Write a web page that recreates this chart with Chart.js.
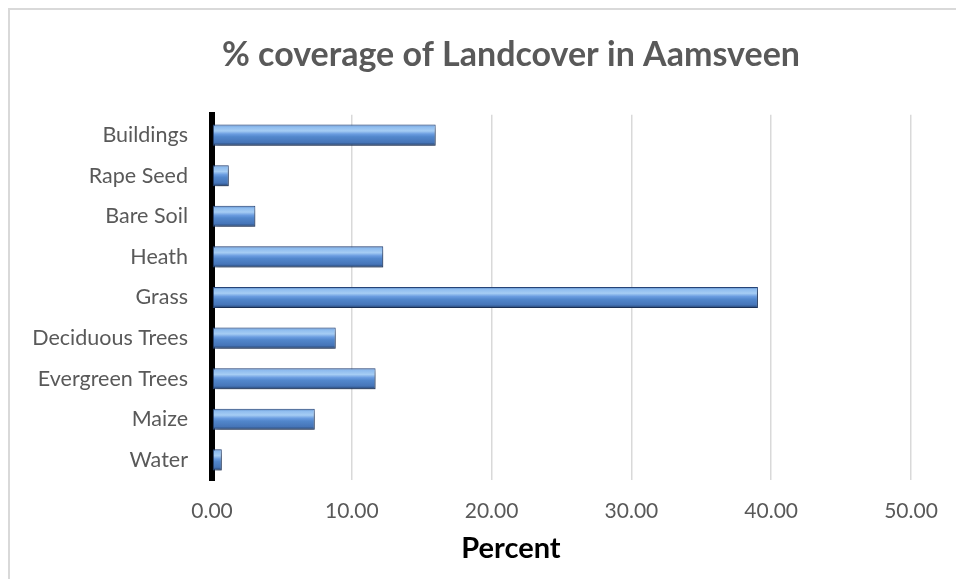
<!DOCTYPE html>
<html>
<head>
<meta charset="utf-8">
<title>Landcover Aamsveen</title>
<script src="https://cdn.jsdelivr.net/npm/chart.js@4.4.0/dist/chart.umd.min.js"></script>
<style>
  html, body { margin: 0; padding: 0; background: #fff; overflow: hidden; }
  #frame {
    position: absolute; left: 8px; top: 8px; width: 1000px; height: 620px;
    border-left: 2px solid #d9d9d9; border-top: 2px solid #d9d9d9;
  }
  #landcover-chart { position: absolute; left: 0; top: 0; }
</style>
</head>
<body>
<div id="frame"></div>
<canvas id="landcover-chart" width="1010" height="579"></canvas>
<script>
/* ---- data ---- */
var categories = ['Buildings', 'Rape Seed', 'Bare Soil', 'Heath', 'Grass',
                  'Deciduous Trees', 'Evergreen Trees', 'Maize', 'Water'];
var coverage = [16.0, 1.2, 3.1, 12.25, 39.05, 8.85, 11.7, 7.35, 0.7];
var tickValues = [0, 10, 20, 30, 40, 50];
var chartTitle = '% coverage of Landcover in Aamsveen';
var axisTitle = 'Percent';

(function() {
  var font = "Lato, 'Open Sans', sans-serif";
  var grey = '#595959';

  // vertical bevel-ish gradient, one per bar
  function barFill(c) {
    var chart = c.chart;
    var y = chart.scales.y;
    if (!chart.chartArea || !y || c.type !== 'data') return '#5b8fd0';
    var yc = y.getPixelForValue(c.dataIndex);
    var g = chart.ctx.createLinearGradient(0, yc - 10.5, 0, yc + 10.5);
    g.addColorStop(0, '#4673b3');
    g.addColorStop(0.1, '#8dbbee');
    g.addColorStop(0.3, '#a6cdf4');
    g.addColorStop(0.45, '#6a9ce0');
    g.addColorStop(0.58, '#5287cc');
    g.addColorStop(0.85, '#4675b8');
    g.addColorStop(1, '#223f6b');
    return g;
  }

  // soft drop shadow under the bars
  var barShadow = {
    id: 'barShadow',
    beforeDatasetsDraw: function(chart) {
      var ctx = chart.ctx;
      ctx.save();
      ctx.shadowColor = 'rgba(0,0,0,0.4)';
      ctx.shadowBlur = 5;
      ctx.shadowOffsetX = 2;
      ctx.shadowOffsetY = 3;
    },
    afterDatasetsDraw: function(chart) {
      chart.ctx.restore();
    }
  };

  new Chart(document.getElementById('landcover-chart'), {
    type: 'bar',
    data: {
      labels: categories,
      datasets: [{
        data: coverage,
        backgroundColor: barFill,
        borderColor: '#27467a',
        borderWidth: 1,
        borderSkipped: false,
        categoryPercentage: 1,
        barPercentage: 0.52
      }]
    },
    options: {
      indexAxis: 'y',
      responsive: false,
      animation: false,
      devicePixelRatio: 1,
      layout: { padding: { left: 20, right: 8, top: 0, bottom: 0 } },
      plugins: {
        legend: { display: false },
        tooltip: { enabled: false },
        title: {
          display: true,
          text: chartTitle,
          color: grey,
          font: { family: font, size: 34, weight: 'bold' },
          padding: { top: 35, bottom: 39 }
        },
        subtitle: {
          display: true,
          position: 'bottom',
          text: axisTitle,
          color: '#000',
          font: { family: font, size: 29, weight: 'bold' },
          padding: { top: 9, bottom: 13 }
        }
      },
      scales: {
        x: {
          min: 0,
          max: 50,
          afterBuildTicks: function(s) {
            s.ticks = tickValues.map(function(v) { return { value: v }; });
          },
          afterFit: function(s) { s.height = 42; },
          ticks: {
            color: grey,
            padding: 18,
            font: { family: font, size: 21 },
            callback: function(v) { return Number(v).toFixed(2); }
          },
          grid: { color: '#d9d9d9', lineWidth: 1.5, drawTicks: false },
          border: { display: false }
        },
        y: {
          z: 1,
          afterFit: function(s) { s.width = 192; },
          ticks: {
            color: grey,
            padding: 24,
            font: { family: font, size: 21.5 }
          },
          grid: { display: false, drawTicks: false },
          border: { display: true, color: '#000', width: 6 }
        },
        // empty right-hand spacer so the titles centre on the whole frame
        y2: {
          type: 'category',
          position: 'right',
          afterFit: function(s) { s.width = 91; },
          ticks: { display: false },
          grid: { display: false, drawTicks: false },
          border: { display: false }
        }
      }
    },
    plugins: [barShadow]
  });
})();
</script>
</body>
</html>
